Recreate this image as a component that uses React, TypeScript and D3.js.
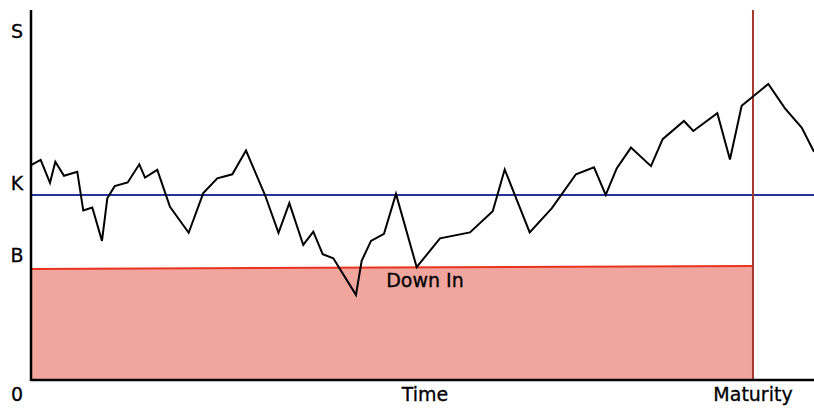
import React from "react";
import * as d3 from "d3";

const WIDTH = 814;
const HEIGHT = 410;

// time in % of maturity, price level in arbitrary units (0..100)
const times = [
  0, 1.34, 2.63, 3.37, 4.57, 6.41, 7.24, 8.49, 9.83, 10.57, 11.59, 13.39, 15.0, 15.79,
  17.49, 19.25, 21.84, 23.86, 25.8, 27.88, 29.78, 32.41, 34.28, 35.78, 37.71, 39.1,
  40.4, 41.87, 45.01, 45.8, 47.09, 48.89, 50.55, 53.42, 56.65, 60.8, 63.95, 65.61,
  69.07, 72.12, 75.48, 77.98, 79.6, 81.12, 83.1, 85.87, 87.49, 90.44, 91.73, 95.06,
  96.81, 98.43, 102.12, 104.43, 106.74, 108.45,
];
const prices = [
  58.1, 59.5, 53.3, 59.0, 55.2, 56.3, 45.8, 46.6, 37.6, 49.1, 52.4, 53.4, 58.3, 54.7,
  56.8, 46.8, 39.8, 50.5, 54.5, 55.6, 62.0, 50.0, 39.8, 47.8, 36.5, 40.1, 34.0, 32.9,
  23.0, 32.2, 37.6, 39.5, 50.3, 30.5, 38.3, 39.9, 45.6, 56.9, 39.9, 46.4, 55.6, 57.5,
  50.0, 57.2, 62.8, 57.8, 65.1, 70.0, 67.3, 72.1, 59.6, 74.1, 80.0, 73.4, 68.2, 61.7,
];

const strike = 50;
const barrierTimes = [0, 100];
const barrierLevels = [30, 30.8];
const maturity = 100;
const timeMax = 108.45;
const priceMax = 100;

const yLabels = [
  { text: "S", value: 92.5 },
  { text: "K", value: 51.4 },
  { text: "B", value: 32 },
  { text: "0", value: -5.7 },
];

export default function App() {
  const x = d3.scaleLinear().domain([0, timeMax]).range([31, WIDTH]);
  const y = d3.scaleLinear().domain([0, priceMax]).range([380, 10]);

  const path = d3
    .line<number>()
    .x((_, i) => x(times[i]))
    .y((d) => y(d))(prices);

  const barrierIdx = barrierTimes.map((_, i) => i);
  const fill = d3
    .area<number>()
    .x((i) => x(barrierTimes[i]))
    .y0(y(0))
    .y1((i) => y(barrierLevels[i]))(barrierIdx);
  const barrier = d3
    .line<number>()
    .x((i) => x(barrierTimes[i]))
    .y((i) => y(barrierLevels[i]))(barrierIdx);

  const font = {
    fontFamily: "DejaVu Sans, sans-serif",
    fontSize: 19,
    fill: "#000",
    stroke: "#000",
    strokeWidth: 0.3,
  };

  return (
    <svg
      width={WIDTH}
      height={HEIGHT}
      style={{ position: "absolute", left: 0, top: 0, background: "#fff" }}
    >
      <path d={fill ?? ""} fill="#f0a59e" />
      <path d={barrier ?? ""} fill="none" stroke="#e8331f" strokeWidth={2} />
      <line
        x1={x(0)}
        x2={x(timeMax)}
        y1={y(strike)}
        y2={y(strike)}
        stroke="#26349a"
        strokeWidth={2}
      />
      <line
        x1={x(maturity)}
        x2={x(maturity)}
        y1={y(priceMax)}
        y2={y(0)}
        stroke="#a53a2c"
        strokeWidth={2}
      />
      <path d={path ?? ""} fill="none" stroke="#000" strokeWidth={2} strokeLinejoin="miter" />
      <line x1={x(0)} x2={x(0)} y1={y(priceMax)} y2={y(0) + 1} stroke="#000" strokeWidth={2.5} />
      <line x1={x(0)} x2={x(timeMax)} y1={y(0)} y2={y(0)} stroke="#000" strokeWidth={2.5} />

      {yLabels.map((l) => (
        <text key={l.text} x={17} y={y(l.value)} textAnchor="middle" {...font}>
          {l.text}
        </text>
      ))}
      <text x={425} y={401} textAnchor="middle" {...font}>
        Time
      </text>
      <text x={753} y={401} textAnchor="middle" {...font}>
        Maturity
      </text>
      <text x={425} y={287} textAnchor="middle" {...font}>
        Down In
      </text>
    </svg>
  );
}
